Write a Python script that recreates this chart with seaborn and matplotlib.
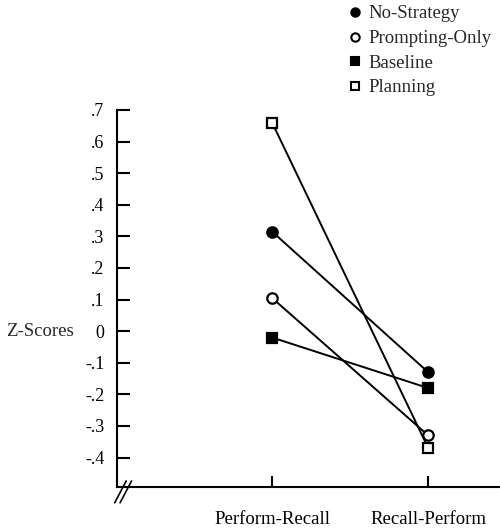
import numpy as np
import pandas as pd
import matplotlib
matplotlib.use("Agg")
from matplotlib import pyplot as plt
from matplotlib.lines import Line2D
import seaborn as sns

# data
conditions = ["Perform-Recall", "Recall-Perform"]
groups = ["No-Strategy", "Prompting-Only", "Baseline", "Planning"]
no_strategy = [0.315, -0.13]
prompting_only = [0.105, -0.33]
baseline = [-0.02, -0.18]
planning = [0.66, -0.37]
y_ticks = [0.7, 0.6, 0.5, 0.4, 0.3, 0.2, 0.1, 0.0, -0.1, -0.2, -0.3, -0.4]
y_tick_labels = [".7", ".6", ".5", ".4", ".3", ".2", ".1", "0", "-.1", "-.2", "-.3", "-.4"]

series = {"No-Strategy": no_strategy, "Prompting-Only": prompting_only,
          "Baseline": baseline, "Planning": planning}
rows = []
for g in groups:
    for c, v in zip(conditions, series[g]):
        rows.append({"group": g, "condition": c, "z": v})
df = pd.DataFrame(rows)

# marker styles per group
marker = {"No-Strategy": "o", "Prompting-Only": "o", "Baseline": "s", "Planning": "s"}
face = {"No-Strategy": "black", "Prompting-Only": "white", "Baseline": "black", "Planning": "white"}

sns.set_theme(style="ticks")
plt.rcParams["font.family"] = ["Liberation Serif", "DejaVu Serif"]
plt.rcParams["axes.linewidth"] = 1.5

fig = plt.figure(figsize=(5.0, 5.28), dpi=100)
ax = fig.add_axes([0.234, 0.0777, 0.766, 0.714])

for g in groups:
    sub = df[df.group == g]
    sns.lineplot(data=sub, x="condition", y="z", ax=ax, color="black", lw=1.4,
                 marker=marker[g], markersize=7.5, markerfacecolor=face[g],
                 markeredgecolor="black", markeredgewidth=1.6, sort=False)

ax.set_xlim(-0.994, 1.46)
ax.set_ylim(-0.493, 0.7)
ax.set_yticks(y_ticks)
ax.set_yticklabels(y_tick_labels, fontsize=13)
ax.set_xticks([0, 1])
ax.set_xticklabels(conditions, fontsize=13.5)
ax.tick_params(axis="y", direction="in", length=9, width=1.5, pad=9, colors="black")
ax.tick_params(axis="x", direction="in", length=8, width=1.5, pad=17, colors="black")
ax.set_xlabel("")
ax.set_ylabel("")
for s in ["top", "right"]:
    ax.spines[s].set_visible(False)
ax.spines["left"].set_color("black")
ax.spines["bottom"].set_color("black")

# Z-Scores label level with 0
fig.text(0.012, ax.transData.transform((0, 0))[1] / fig.bbox.height, "Z-Scores",
         fontsize=13.5, va="center", ha="left")

# axis break marks
for dx in [0.0, 0.014]:
    ax.plot([-0.006 + dx, 0.024 + dx], [-0.042, 0.016], transform=ax.transAxes,
            color="black", lw=1.2, clip_on=False)

handles = [Line2D([], [], ls="none", marker=marker[g], markersize=6,
                  markerfacecolor=face[g], markeredgecolor="black",
                  markeredgewidth=1.5) for g in groups]
fig.legend(handles, groups, loc="upper left", bbox_to_anchor=(0.691, 0.997),
           frameon=False, fontsize=13.5, handlelength=0.6, handletextpad=0.4,
           labelspacing=0.4, borderpad=0.2, borderaxespad=0)

fig.savefig("out.png", dpi=100, facecolor="white")
